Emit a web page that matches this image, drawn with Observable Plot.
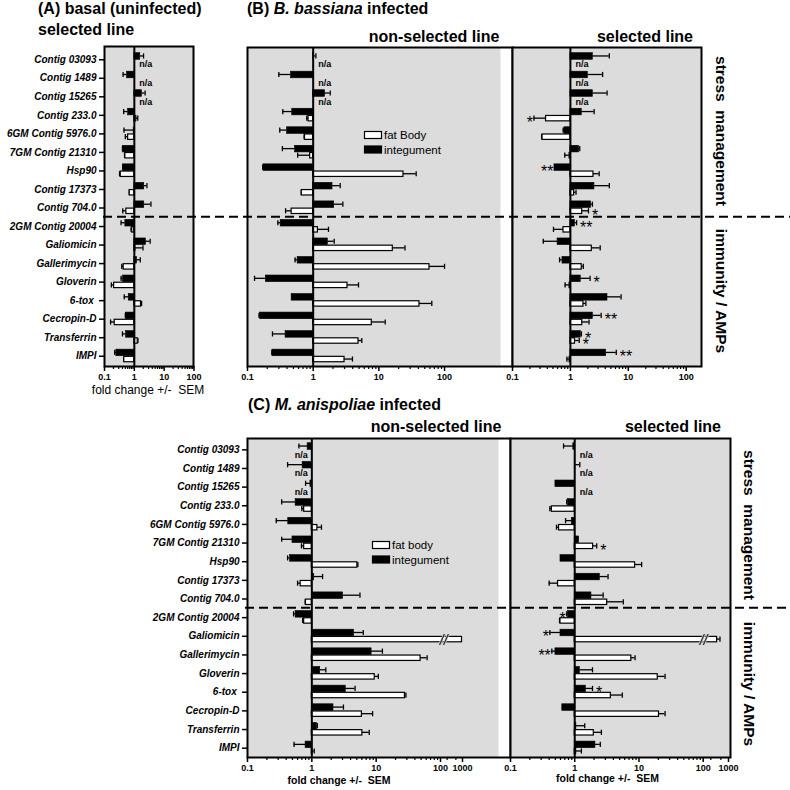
<!DOCTYPE html>
<html><head><meta charset="utf-8">
<script src="https://cdn.jsdelivr.net/npm/d3@7"></script>
<script src="https://cdn.jsdelivr.net/npm/@observablehq/plot@0.6"></script>
<style>
body{margin:0;background:#fff;}
#root{position:relative;width:790px;height:790px;overflow:hidden;font-family:"Liberation Sans",Arial,sans-serif;}
#root svg{position:absolute;left:0;top:0;}
</style></head><body><div id="root"></div>
<script>
// ---------------- data ----------------
const genes = ["Contig 03093","Contig 1489","Contig 15265","Contig 233.0","6GM Contig 5976.0","7GM Contig 21310","Hsp90","Contig 17373","Contig 704.0","2GM Contig 20004","Galiomicin","Gallerimycin","Gloverin","6-tox ","Cecropin-D","Transferrin","IMPI"];

// (A) basal selected line
const aIntegument    = [1.58,0.57,1.8,0.62,0.95,0.42,0.42,2.15,2.15,0.5,2.45,1.23,0.42,0.65,0.52,0.53,0.25];
const aIntegumentErr = [2.04,0.42,2.3,0.44,0.45,0.40,0.41,2.65,3.6,0.36,3.4,1.58,0.36,0.46,0.5,0.4,0.22];
const aFatBody       = [null,null,null,1.16,0.62,0.5,0.35,0.7,0.54,0.85,1.08,0.44,0.21,1.67,0.22,1.3,0.46];
const aFatBodyErr    = [null,null,null,1.3,0.5,0.47,0.32,0.68,0.41,0.78,1.95,0.38,0.17,1.75,0.16,1.32,0.44];

// (B) B. bassiana, non-selected line
const bnIntegument    = [1.02,0.46,1.52,0.48,0.4,0.53,0.175,1.97,2.09,0.32,1.67,0.58,0.19,0.47,0.156,0.38,0.24];
const bnIntegumentErr = [1.1,0.30,1.82,0.345,0.31,0.34,0.17,2.58,2.83,0.29,2.09,0.53,0.128,null,0.15,0.24,0.235];
const bnFatBody       = [null,null,null,0.85,0.75,0.9,23.7,0.67,0.47,1.18,16.3,59,3.33,41.5,7.8,4.9,3.0];
const bnFatBodyErr    = [null,null,null,0.8,0.73,0.58,37,0.66,0.38,1.71,25,100,4.9,64,12.5,5.5,3.96];

// (B) B. bassiana, selected line
const bsIntegument    = [2.44,2.0,2.44,1.57,0.79,1.41,0.53,2.6,2.28,1.2,0.6,0.73,1.51,4.37,2.44,1.51,4.15];
const bsIntegumentErr = [4.7,3.6,4.3,2.57,0.75,1.45,null,4.7,2.4,1.28,0.34,0.65,2.19,7.5,3.4,1.55,6.2];
const bsFatBody       = [null,null,null,0.38,0.33,0.97,2.5,1.16,1.6,0.76,2.34,1.57,0.97,1.68,1.6,1.2,0.97];
const bsFatBodyErr    = [null,null,null,0.235,0.32,0.8,3.14,1.25,2.05,0.51,3.27,1.67,0.81,1.85,2.1,1.42,0.87];
const bsStars = [
  {gene:"Contig 233.0", tissue:"fat", label:"*"},
  {gene:"Hsp90", tissue:"int", label:"**"},
  {gene:"Contig 704.0", tissue:"fat", label:"*"},
  {gene:"2GM Contig 20004", tissue:"int", label:"**"},
  {gene:"Gloverin", tissue:"int", label:"*"},
  {gene:"Cecropin-D", tissue:"int", label:"**"},
  {gene:"Transferrin", tissue:"int", label:"*"},
  {gene:"Transferrin", tissue:"fat", label:"*"},
  {gene:"IMPI", tissue:"int", label:"**"}
];

// (C) M. anisopliae, non-selected line
const cnIntegument    = [0.86,0.72,0.95,0.56,0.43,0.5,0.46,1.09,3.06,0.56,4.54,8.5,1.35,3.37,2.17,1.2,0.8];
const cnIntegumentErr = [0.63,0.42,0.8,0.34,0.28,0.34,0.42,1.47,5.6,0.52,6.3,12.5,1.65,4.7,3.1,1.22,0.53];
const cnFatBody       = [null,null,null,0.76,1.22,0.76,5.1,0.67,0.81,0.76,950,49,9.5,28,6.0,6.1,1.01];
const cnFatBodyErr    = [null,null,null,0.7,1.41,0.69,5.2,0.6,0.79,0.72,null,62,10.8,29,8.8,7.8,1.09];
const cnBreaks = [{gene:"Galiomicin", at:140}];

// (C) M. anisopliae, selected line
const csIntegument    = [0.95,1.02,0.5,0.79,0.9,1.17,0.6,2.46,1.82,0.79,0.6,0.5,1.2,1.49,0.64,1.06,2.1];
const csIntegumentErr = [0.67,1.2,null,0.75,0.72,null,null,3.3,2.77,0.75,0.41,0.44,1.89,1.89,null,1.43,2.5];
const csFatBody       = [null,null,null,0.44,0.57,1.93,8.7,0.55,3.2,0.6,355,7.6,19.6,3.65,20.5,1.98,1.05];
const csFatBodyErr    = [null,null,null,0.41,0.52,2.2,11,0.4,5.7,0.58,460,8.7,25.5,5.5,25.5,2.6,1.27];
const csStars = [
  {gene:"7GM Contig 21310", tissue:"fat", label:"*"},
  {gene:"2GM Contig 20004", tissue:"int", label:"*"},
  {gene:"Galiomicin", tissue:"int", label:"*"},
  {gene:"Gallerimycin", tissue:"int", label:"**"},
  {gene:"6-tox ", tissue:"int", label:"*"}
];
const csBreaks = [{gene:"Galiomicin", at:103}];

const ticksTop = [0.1,1,10,100];
const ticksBottom = [0.1,1,10,100,1000];
const minorTop = [0.2,0.3,0.4,0.5,0.6,0.7,0.8,0.9,2,3,4,5,6,7,8,9,20,30,40,50,60,70,80,90];
const minorBottom = minorTop.concat([200,500]);

// ---------------- drawing ----------------
const GRAY = "#dcdcdc";
const FONT = "'Liberation Sans', Arial, sans-serif";
const root = document.getElementById("root");

function makePanel(cfg) {
  const n = genes.length;
  const bw = (cfg.yRange[1] - cfg.yRange[0]) / n;
  const half = bw / 2, h = 6.6, lw = 1.3, cap = 2.6;
  const rows = genes.map((g, i) => ({gene: g, iv: cfg.iv[i], ie: cfg.ie[i], fv: cfg.fv[i], fe: cfg.fe[i]}));
  const intBars = rows.filter(d => d.iv != null);
  const fatBars = rows.filter(d => d.fv != null);
  const intErr = rows.filter(d => d.iv != null && d.ie != null);
  const fatErr = rows.filter(d => d.fv != null && d.fe != null);
  const na = rows.filter(d => d.fv == null);
  const starRows = (cfg.stars || []).map(s => {
    const r = rows[genes.indexOf(s.gene)];
    const isInt = s.tissue === "int";
    const v = isInt ? r.iv : r.fv, e = isInt ? r.ie : r.fe;
    return {gene: r.gene, x: e ?? v, label: s.label, left: v < 1, isInt};
  });
  const starMark = (left, isInt) => Plot.text(starRows.filter(d => d.left === left && d.isInt === isInt), {
    y: "gene", x: "x", text: "label", textAnchor: left ? "end" : "start", dx: left ? -1 : 3.5,
    dy: (isInt ? -h / 2 : h / 2) + 4.3, fontSize: 16, fill: "black"
  });
  const marks = [
    Plot.frame({fill: GRAY, stroke: null, insetRight: cfg.grayInset || 0}),
    Plot.barX(intErr, {y: "gene", x1: "iv", x2: "ie", fill: "black", insetTop: half - h / 2 - lw / 2, insetBottom: half + h / 2 - lw / 2}),
    Plot.barX(fatErr, {y: "gene", x1: "fv", x2: "fe", fill: "black", insetTop: half + h / 2 - lw / 2, insetBottom: half - h / 2 - lw / 2}),
    Plot.tickX(intErr, {y: "gene", x: "ie", stroke: "black", strokeWidth: 1.3, insetTop: half - h / 2 - cap, insetBottom: half + h / 2 - cap}),
    Plot.tickX(fatErr, {y: "gene", x: "fe", stroke: "black", strokeWidth: 1.3, insetTop: half + h / 2 - cap, insetBottom: half - h / 2 - cap}),
    Plot.barX(intBars, {y: "gene", x1: () => 1, x2: "iv", fill: "black", stroke: "black", strokeWidth: 0.6, insetTop: half - h, insetBottom: half}),
    Plot.barX(fatBars, {y: "gene", x1: () => 1, x2: "fv", fill: "white", stroke: "black", strokeWidth: 1.2, insetTop: half + 0.6, insetBottom: half - h + 0.6}),
    Plot.text(cfg.breaks || [], {y: "gene", x: "at", text: () => "//", dy: h / 2 + 1, fontSize: 14, fontStyle: "italic", fill: "black", stroke: GRAY, strokeWidth: 1.6, paintOrder: "stroke"}),
    Plot.text(na, {y: "gene", x: () => 1, text: () => "n/a", textAnchor: cfg.naLeft ? "end" : "start", dx: cfg.naLeft ? -4 : 5, dy: h / 2 + 1.5, fontSize: 9, fontWeight: "bold", fill: "black"}),
    starMark(true, true), starMark(true, false), starMark(false, true), starMark(false, false),
    Plot.ruleX([1], {stroke: "black", strokeWidth: 2}),
    Plot.axisX({ticks: cfg.minor, tickSize: 3, tickFormat: () => "", strokeWidth: 1.2, label: null, anchor: "bottom"}),
    Plot.axisX({ticks: cfg.major, tickSize: 5, tickPadding: 2, tickFormat: d => String(d), fontWeight: "bold", fontSize: 9, strokeWidth: 1.5, label: null, anchor: "bottom", fill: "black"}),
    Plot.frame({stroke: "black", strokeWidth: 2})
  ];
  if (cfg.showY) marks.push(Plot.axisY({anchor: "left", tickSize: 5, tickPadding: 3, fontSize: 10, fontWeight: "bold", fontStyle: "italic", strokeWidth: 1.5, label: null, fill: "black"}));
  const p = Plot.plot({
    width: 790, height: 790,
    marginLeft: cfg.L, marginRight: 790 - cfg.R, marginTop: cfg.T, marginBottom: 790 - cfg.B,
    style: {background: "transparent", fontFamily: FONT, color: "black", overflow: "visible"},
    x: {type: "log", domain: cfg.xDomain, range: cfg.xRange, axis: null},
    y: {type: "band", domain: genes, range: cfg.yRange, padding: 0, round: false, axis: null},
    marks
  });
  root.appendChild(p);
  return p;
}

const pA = makePanel({L: 104, R: 193, T: 46, B: 366, yRange: [50, 365], xDomain: [0.1, 100], xRange: [104, 193.5],
  major: ticksTop, minor: minorTop, iv: aIntegument, ie: aIntegumentErr, fv: aFatBody, fe: aFatBodyErr, showY: true});
const pBN = makePanel({L: 247, R: 512, T: 47, B: 366, yRange: [50, 365], xDomain: [0.1, 1000], xRange: [247, 509.7], grayInset: 12,
  major: ticksTop, minor: minorTop, iv: bnIntegument, ie: bnIntegumentErr, fv: bnFatBody, fe: bnFatBodyErr});
const pBS = makePanel({L: 512, R: 701, T: 47, B: 366, yRange: [50, 365], xDomain: [0.1, 100], xRange: [512, 685.7],
  major: ticksTop, minor: minorTop, iv: bsIntegument, ie: bsIntegumentErr, fv: bsFatBody, fe: bsFatBodyErr, stars: bsStars});
const pCN = makePanel({L: 247, R: 510, T: 438, B: 757, yRange: [440, 757], xDomain: [0.1, 100, 1000], xRange: [247, 440, 462], grayInset: 12,
  major: ticksBottom, minor: minorBottom, iv: cnIntegument, ie: cnIntegumentErr, fv: cnFatBody, fe: cnFatBodyErr, showY: true, naLeft: true, breaks: cnBreaks});
const pCS = makePanel({L: 510, R: 730, T: 438, B: 757, yRange: [440, 757], xDomain: [0.1, 100, 1000], xRange: [510, 702.7, 728],
  major: ticksBottom, minor: minorBottom, iv: csIntegument, ie: csIntegumentErr, fv: csFatBody, fe: csFatBodyErr, stars: csStars, breaks: csBreaks});

// ---------------- overlay: titles, legends, separators ----------------
function boundary(p, gene) {
  const ys = p.scale("y");
  let y = ys.apply(gene);
  if (Math.abs(ys.apply(genes[0]) - ys.range[0]) > 1) y -= ys.bandwidth / 2;
  return y;
}
const svg = d3.select(root).append("svg").attr("width", 790).attr("height", 790)
  .style("font-family", FONT).style("overflow", "visible");

const yTop = boundary(pA, "2GM Contig 20004");
const yBot = boundary(pCN, "2GM Contig 20004");
svg.append("line").attr("x1", pA.scale("x").range[0] - 1).attr("x2", 790).attr("y1", yTop).attr("y2", yTop)
  .attr("stroke", "black").attr("stroke-width", 2).attr("stroke-dasharray", "9,5");
svg.append("line").attr("x1", pCN.scale("x").range[0] - 2).attr("x2", 790).attr("y1", yBot).attr("y2", yBot)
  .attr("stroke", "black").attr("stroke-width", 2).attr("stroke-dasharray", "9,5");

function txt(x, y, parts, opts = {}) {
  const t = svg.append("text").attr("x", x).attr("y", y)
    .attr("font-size", opts.size || 16).attr("font-weight", opts.weight || "bold")
    .attr("text-anchor", opts.anchor || "start").attr("fill", "black").style("white-space", "pre");
  if (opts.rotate) t.attr("transform", `rotate(90 ${x} ${y})`).attr("dominant-baseline", "central");
  for (const p of [].concat(parts)) {
    if (typeof p === "string") t.append("tspan").text(p);
    else t.append("tspan").attr("font-style", "italic").text(p.i);
  }
  return t;
}
// titles
txt(38, 14, "(A) basal (uninfected)");
txt(38, 35, "selected line");
txt(247, 14, ["(B) ", {i: "B. bassiana"}, " infected"]);
txt(434, 41.5, "non-selected line", {anchor: "middle"});
txt(645, 41.5, "selected line", {anchor: "middle"});
txt(248, 410, ["(C) ", {i: "M. anispoliae"}, " infected"]);
txt(436, 431.5, "non-selected line", {anchor: "middle"});
txt(673, 431.5, "selected line", {anchor: "middle"});
// side labels
txt(722, 131, "stress  management", {anchor: "middle", rotate: true, size: 15.5});
txt(722, 291, "immunity / AMPs", {anchor: "middle", rotate: true, size: 15.5});
txt(750, 525, "stress  management", {anchor: "middle", rotate: true, size: 15.5});
txt(750, 684, "immunity / AMPs", {anchor: "middle", rotate: true, size: 15.5});
// axis titles
txt(148, 394, "fold change +/-  SEM", {anchor: "middle", size: 12, weight: "normal"});
txt(339, 783.5, "fold change +/-  SEM", {anchor: "middle", size: 10.5});
txt(607.5, 782, "fold change +/-  SEM", {anchor: "middle", size: 10.5});
// legends
function legend(x, y, fatLabel) {
  svg.append("rect").attr("x", x).attr("y", y).attr("width", 17).attr("height", 7).attr("fill", "white").attr("stroke", "black").attr("stroke-width", 1.2);
  svg.append("rect").attr("x", x).attr("y", y + 14.5).attr("width", 17).attr("height", 7).attr("fill", "black").attr("stroke", "black").attr("stroke-width", 1.2);
  txt(x + 19.5, y + 7.5, fatLabel, {size: 11.5, weight: "normal"});
  txt(x + 19.5, y + 22, "integument", {size: 11.5, weight: "normal"});
}
legend(364.5, 131.5, "fat Body");
legend(372.5, 541.5, "fat body");
</script>
</body></html>
